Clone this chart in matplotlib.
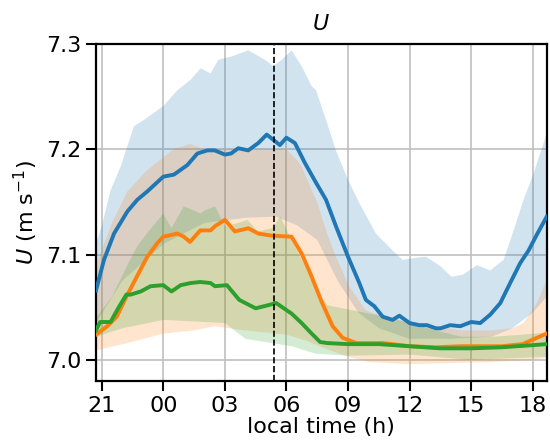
import matplotlib
matplotlib.use("Agg")
import matplotlib.pyplot as plt
import numpy as np

# ---- data (hours since 00 of day 0; 24 = midnight) ----
blue_t = [20.72, 21.11, 21.6, 22.25, 22.73, 23.22, 24.0, 24.52, 25.17, 25.66, 26.15, 26.5, 27.0, 27.3,
          27.65, 28.14, 28.63, 29.04, 29.36, 29.68, 30.0, 30.41, 30.9, 31.39, 31.93, 32.41, 33.0, 33.55,
          33.87, 34.28, 34.69, 35.17, 35.5, 36.0, 36.47, 36.85, 37.28, 37.5, 37.98, 38.47, 39.0, 39.44,
          39.93, 40.42, 40.9, 41.39, 41.8, 42.2, 42.68]
blue_mean = [7.066, 7.095, 7.120, 7.141, 7.152, 7.160, 7.174, 7.176, 7.185, 7.196, 7.199, 7.199, 7.195, 7.196,
             7.201, 7.199, 7.206, 7.214, 7.209, 7.204, 7.211, 7.206, 7.187, 7.170, 7.152, 7.127, 7.098, 7.073,
             7.057, 7.051, 7.041, 7.038, 7.042, 7.035, 7.033, 7.033, 7.030, 7.030, 7.033, 7.032, 7.036, 7.035,
             7.043, 7.054, 7.073, 7.092, 7.104, 7.119, 7.136]

orange_t = [20.72, 21.27, 21.73, 22.2, 22.87, 23.22, 23.71, 24.0, 24.68, 25.0, 25.3, 25.8, 26.3, 26.52,
            27.0, 27.49, 28.14, 28.63, 29.28, 30.25, 30.74, 31.23, 31.72, 32.25, 32.74, 33.4, 34.69,
            36.0, 37.28, 38.5, 39.5, 40.5, 41.5, 42.2, 42.68]
orange_mean = [7.024, 7.032, 7.041, 7.060, 7.085, 7.098, 7.111, 7.117, 7.120, 7.117, 7.112, 7.123, 7.123, 7.127,
               7.133, 7.122, 7.125, 7.120, 7.118, 7.117, 7.101, 7.079, 7.055, 7.032, 7.021, 7.016, 7.016,
               7.013, 7.012, 7.013, 7.013, 7.013, 7.015, 7.021, 7.025]

green_t = [20.72, 20.92, 21.43, 21.8, 22.2, 22.41, 22.9, 23.38, 24.0, 24.4, 24.85, 25.33, 25.8, 26.3, 26.52,
           27.1, 27.7, 28.5, 29.12, 29.5, 30.25, 30.74, 31.23, 31.64, 32.0, 33.0, 34.5, 36.0, 37.5, 39.0,
           40.5, 42.0, 42.68]
green_mean = [7.028, 7.036, 7.036, 7.049, 7.062, 7.062, 7.065, 7.070, 7.071, 7.065, 7.071, 7.073, 7.074, 7.073,
              7.070, 7.071, 7.057, 7.049, 7.052, 7.054, 7.044, 7.035, 7.025, 7.017, 7.016, 7.015, 7.015,
              7.013, 7.011, 7.011, 7.012, 7.014, 7.015]

blue_hi_t = [20.72, 21.0, 21.43, 21.93, 22.25, 22.57, 23.06, 24.0, 24.68, 25.33, 25.82, 26.3, 26.68, 27.3,
             28.14, 28.95, 29.36, 29.77, 30.25, 30.74, 31.23, 31.44, 31.93, 32.41, 33.0, 33.55, 34.36,
             35.17, 35.66, 36.3, 36.8, 37.5, 38.05, 38.6, 39.28, 39.93, 40.58, 41.07, 41.55, 42.04, 42.68]
blue_hi = [7.11, 7.127, 7.161, 7.184, 7.203, 7.222, 7.228, 7.241, 7.256, 7.266, 7.277, 7.272, 7.285, 7.288,
           7.294, 7.285, 7.279, 7.285, 7.294, 7.279, 7.260, 7.256, 7.228, 7.199, 7.171, 7.149, 7.120,
           7.104, 7.095, 7.097, 7.098, 7.089, 7.079, 7.081, 7.090, 7.085, 7.095, 7.123, 7.152, 7.177, 7.215]
blue_lo_t = [20.72, 22.0, 24.0, 26.0, 28.0, 29.5, 30.5, 31.5, 32.5, 33.5, 34.5, 36.0, 38.0, 40.0, 41.0,
             42.0, 42.68]
blue_lo = [7.035, 7.075, 7.11, 7.13, 7.135, 7.136, 7.128, 7.114, 7.075, 7.045, 7.03, 7.02, 7.02, 7.022,
           7.03, 7.045, 7.06]

orange_hi_t = [20.72, 21.5, 22.25, 23.2, 24.5, 25.3, 26.0, 27.0, 28.0, 29.0, 30.0, 30.5, 30.74, 31.23,
               31.5, 31.93, 32.41, 33.05, 33.87, 34.69, 36.0, 37.28, 38.5, 40.0, 41.0, 41.55, 42.2, 42.68]
orange_hi = [7.09, 7.13, 7.16, 7.18, 7.20, 7.205, 7.20, 7.20, 7.20, 7.20, 7.20, 7.19, 7.184, 7.161,
             7.15, 7.123, 7.098, 7.070, 7.047, 7.041, 7.035, 7.032, 7.028, 7.028, 7.030, 7.035, 7.054, 7.076]
orange_lo_t = [20.72, 22.25, 24.0, 25.5, 26.5, 28.0, 29.0, 30.0, 31.0, 32.0, 33.0, 34.0, 36.0, 38.0,
               40.0, 42.0, 42.68]
orange_lo = [7.009, 7.016, 7.025, 7.028, 7.032, 7.028, 7.026, 7.024, 7.018, 7.01, 7.003, 6.998, 6.996,
             6.997, 6.998, 7.000, 7.002]

green_hi_t = [20.72, 21.5, 22.25, 22.73, 23.2, 24.0, 24.4, 25.0, 25.8, 26.03, 26.52, 27.0, 27.65, 28.1,
              28.6, 29.3, 29.7, 30.25, 30.9, 31.55, 32.0, 33.0, 34.0, 35.0, 36.0, 37.28, 38.5, 40.0,
              41.5, 42.68]
green_hi = [7.04, 7.06, 7.09, 7.108, 7.12, 7.139, 7.125, 7.146, 7.139, 7.142, 7.146, 7.127, 7.130, 7.133,
            7.122, 7.125, 7.136, 7.114, 7.089, 7.063, 7.052, 7.048, 7.044, 7.041, 7.035, 7.028, 7.022,
            7.022, 7.024, 7.026]
green_lo_t = [20.72, 22.0, 24.0, 27.0, 28.0, 29.3, 30.25, 31.4, 33.0, 36.0, 39.0, 42.68]
green_lo = [7.022, 7.03, 7.038, 7.035, 7.02, 7.016, 7.013, 7.006, 7.004, 7.005, 7.000, 7.003]

tick_hours = [21, 24, 27, 30, 33, 36, 39, 42]
tick_labels = ["21", "00", "03", "06", "09", "12", "15", "18"]
sunrise = 29.37

# ---- plot ----
plt.rcParams['font.family'] = ['DejaVu Sans']
fig = plt.figure(figsize=(5.5, 4.48), dpi=100)
ax = fig.add_axes([0.1745, 0.1496, 0.8195, 0.7522])

series = [
    (blue_t, blue_mean, blue_hi_t, blue_hi, blue_lo_t, blue_lo, 'tab:blue'),
    (orange_t, orange_mean, orange_hi_t, orange_hi, orange_lo_t, orange_lo, 'tab:orange'),
    (green_t, green_mean, green_hi_t, green_hi, green_lo_t, green_lo, 'tab:green'),
]
for t, m, th, h, tl, l, c in series:
    px = np.concatenate([th, tl[::-1]])
    py = np.concatenate([h, l[::-1]])
    ax.fill(px, py, color=c, alpha=0.2, lw=0, zorder=1)
for t, m, th, h, tl, l, c in series:
    ax.plot(t, m, color=c, lw=2.8, zorder=3)

ax.axvline(sunrise, color='black', ls='--', lw=1.2, zorder=4)

ax.set_xlim(20.72, 42.68)
ax.set_ylim(6.98, 7.3)
ax.set_xticks(tick_hours)
ax.set_xticklabels(tick_labels)
ax.set_yticks([7.0, 7.1, 7.2, 7.3])
ax.grid(True, color='#c0c0c0', lw=1.2, zorder=0)
ax.set_axisbelow(True)
for s in ax.spines.values():
    s.set_linewidth(1.6)
ax.tick_params(axis='both', which='major', labelsize=16, length=7, width=1.5, direction='out')
ax.set_xlabel('local time (h)', fontsize=16, labelpad=1)
ax.set_ylabel(r'$U$ (m s$^{-1}$)', fontsize=16, labelpad=4)
ax.set_title(r'$U$', fontsize=16, pad=10)

fig.savefig('out.png', dpi=100)
